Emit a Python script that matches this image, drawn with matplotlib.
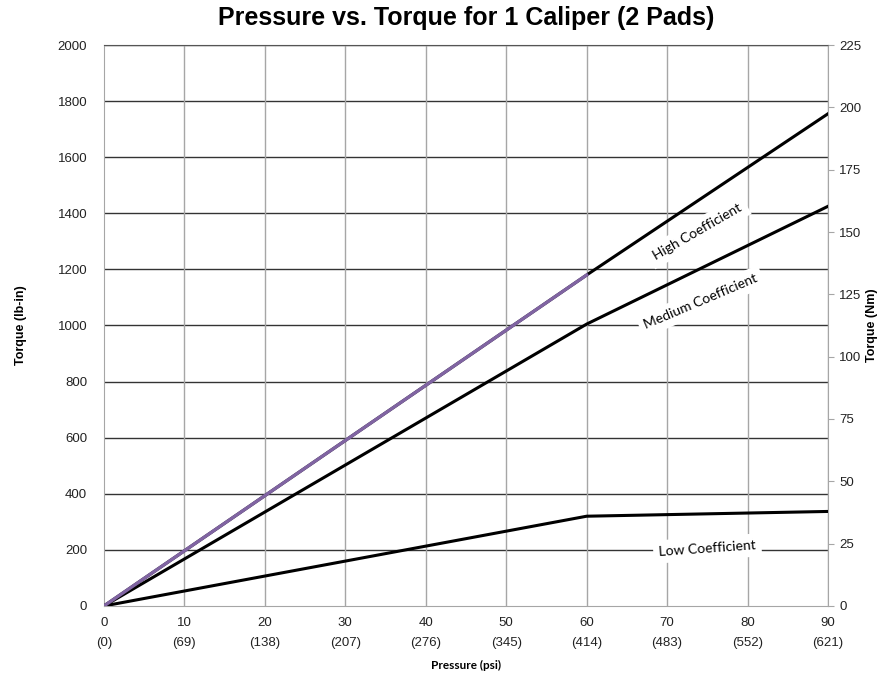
import matplotlib
matplotlib.use("Agg")
from matplotlib import pyplot as plt
from matplotlib import font_manager

# data
pressure = [0, 60, 90]
psi_ticks = [0, 10, 20, 30, 40, 50, 60, 70, 80, 90]
kpa_ticks = [0, 69, 138, 207, 276, 345, 414, 483, 552, 621]
high_coef = [0, 1180, 1755]
medium_coef = [0, 1005, 1425]
low_coef = [0, 320, 337]
purple_x = [0, 60]
purple_y = [0, 1180]

plt.rcParams["font.family"] = ["Liberation Sans", "DejaVu Sans"]

names = sorted({f.name for f in font_manager.fontManager.ttflist})
narrow = "Liberation Sans Narrow" in names
print("narrow available:", narrow)

fig = plt.figure(figsize=(8.87, 6.76), dpi=100)
ax = fig.add_axes([0.1172, 0.1036, 0.8163, 0.8298])

# grid: dark horizontal, gray vertical
for v in range(200, 2001, 200):
    ax.axhline(v, color="#333333", lw=1.0, zorder=1)
for v in psi_ticks[1:]:
    ax.axvline(v, color="#a6a6a6", lw=1.0, zorder=1)

ax.plot(pressure, high_coef, color="black", lw=2.2, zorder=3)
ax.plot(pressure, medium_coef, color="black", lw=2.2, zorder=3)
ax.plot(pressure, low_coef, color="black", lw=2.2, zorder=3)
ax.plot(purple_x, purple_y, color="#8064a2", lw=2.4, zorder=4)

ax.set_xlim(0, 90)
ax.set_ylim(0, 2000)
ax.set_xticks(psi_ticks)
ax.set_xticklabels([f"{p}\n({k})" for p, k in zip(psi_ticks, kpa_ticks)],
                   fontsize=9.5, linespacing=1.9)
ax.set_yticks(range(0, 2001, 200))
ax.tick_params(axis="both", length=0, pad=8, labelsize=9.5, colors="#222222")
ax.tick_params(axis="y", pad=12)

for s in ["left", "bottom", "right"]:
    ax.spines[s].set_color("#a6a6a6")
ax.spines["top"].set_color("#555555")

ax.set_xlabel("Pressure (psi)", fontsize=8.5, fontweight="bold", labelpad=8,
              family=["Lato", "DejaVu Sans"])
ax.set_ylabel("Torque (lb-in)", fontsize=9, fontweight="bold", labelpad=22)

ax2 = ax.twinx()
ax2.set_ylim(0, 225)
ax2.set_yticks(range(0, 226, 25))
ax2.tick_params(axis="y", length=4, color="#a6a6a6", labelsize=9.5,
                colors="#222222", pad=4)
ax2.tick_params(axis="y", color="#a6a6a6")
for s in ["left", "bottom", "right", "top"]:
    ax2.spines[s].set_visible(False)
ax2.set_ylabel("Torque (Nm)", fontsize=9, fontweight="bold", labelpad=3)

# curve labels
box = dict(facecolor="white", edgecolor="none", pad=4)
lab_font = ["Lato", "DejaVu Sans"]
ax.text(73.8, 1335, "High Coefficient", rotation=30, ha="center", va="center",
        fontsize=10, family=lab_font, bbox=box, zorder=5)
ax.text(74.2, 1085, "Medium Coefficient", rotation=23, ha="center", va="center",
        fontsize=10, family=lab_font, bbox=box, zorder=5)
ax.text(75.0, 205, "Low Coefficient", rotation=4, ha="center", va="center",
        fontsize=10, family=lab_font, bbox=box, zorder=5)

if narrow:
    fig.text(466 / 887, 0.973, "Pressure vs. Torque for 1 Caliper (2 Pads)",
             fontsize=21, fontweight="bold", ha="center", va="center",
             family=["Liberation Sans Narrow", "DejaVu Sans"])
else:
    fig.text(466 / 887, 0.973, "Pressure vs. Torque for 1 Caliper (2 Pads)",
             fontsize=18, fontweight="bold", ha="center", va="center")

fig.savefig("out.png", dpi=100)
